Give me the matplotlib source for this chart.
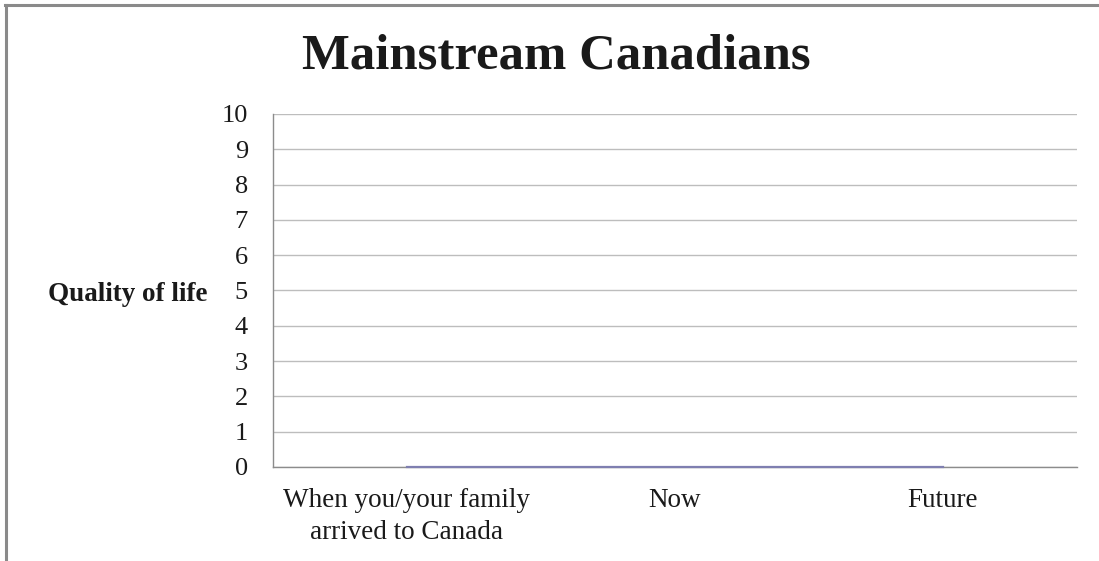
import matplotlib

matplotlib.use("Agg")
import matplotlib.pyplot as plt
from matplotlib.lines import Line2D

plt.rcParams["font.family"] = ["Liberation Serif", "DejaVu Serif"]

# chart data
categories = ["When you/your family\narrived to Canada", "Now", "Future"]
quality_values = [0, 0, 0]
y_ticks = list(range(0, 11))

fig = plt.figure(figsize=(10.99, 5.61), dpi=100)
ax = fig.add_axes([0.2484, 0.1676, 0.7316, 0.6292])

x = list(range(len(categories)))
ax.plot(x, quality_values, color="#7f7fb0", linewidth=1.6, zorder=5, clip_on=False)

ax.set_xlim(-0.5, len(categories) - 0.5)
ax.set_ylim(0, 10)
ax.set_yticks(y_ticks)
ax.set_yticklabels([str(t) for t in y_ticks], fontsize=19, color="#1a1a1a")
ax.set_xticks(x)
ax.set_xticklabels(categories, fontsize=19.5, color="#1a1a1a", linespacing=1.4)
ax.tick_params(axis="both", length=0)
ax.tick_params(axis="y", pad=18)
ax.tick_params(axis="x", pad=15)

ax.grid(axis="y", color="#bdbdbd", linewidth=1.0)
ax.set_axisbelow(True)
for side in ("top", "right"):
    ax.spines[side].set_visible(False)
for side in ("left", "bottom"):
    ax.spines[side].set_color("#8c8c8c")
    ax.spines[side].set_linewidth(1.0)

ax.set_ylabel("Quality of life", fontsize=19.5, fontweight="bold", rotation=0,
              color="#1a1a1a", ha="right", va="center")
ax.yaxis.set_label_coords(-0.0818, 0.49)

fig.text(0.5065, 0.900, "Mainstream Canadians", fontsize=36.5, fontweight="bold",
         ha="center", va="center", color="#1a1a1a")

# outer frame on the top and left edges
fig.add_artist(Line2D([0.0045, 1.0], [0.991, 0.991], color="#8a8a8a", linewidth=2.2,
                      transform=fig.transFigure))
fig.add_artist(Line2D([0.0055, 0.0055], [0.0, 0.991], color="#8a8a8a", linewidth=2.2,
                      transform=fig.transFigure))

fig.savefig("out.png", dpi=100)
